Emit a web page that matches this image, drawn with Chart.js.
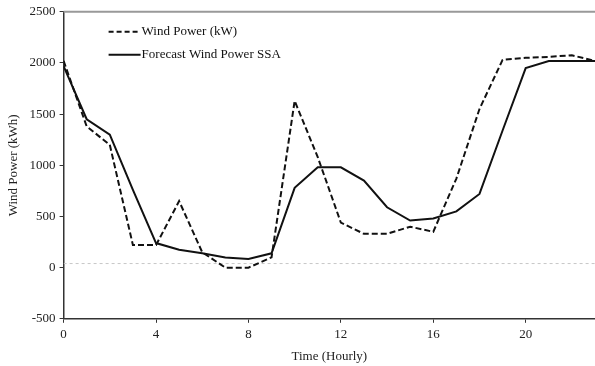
<!DOCTYPE html>
<html>
<head>
<meta charset="utf-8">
<script src="https://cdn.jsdelivr.net/npm/chart.js@4.4.0/dist/chart.umd.min.js"></script>
<style>
  html, body { margin: 0; padding: 0; background: #fff; }
  #wrap { width: 595px; height: 366px; }
</style>
</head>
<body>
<div id="wrap"><canvas id="chart"></canvas></div>
<script>
// hours on the x axis
const hours = [0, 1, 2, 3, 4, 5, 6, 7, 8, 9, 10, 11, 12, 13, 14, 15, 16, 17, 18, 19, 20, 21, 22, 23];
// measured wind power (dashed)
const windPower = [2020, 1380, 1200, 220, 220, 650, 150, 0, 0, 100, 1630, 1080, 440, 330, 330, 400, 350, 870, 1550, 2030, 2050, 2060, 2075, 2020];
// SSA forecast (solid)
const forecastSSA = [1970, 1450, 1300, 760, 240, 175, 140, 100, 85, 140, 780, 980, 980, 850, 590, 460, 480, 550, 720, 1340, 1950, 2020, 2020, 2020];
// faint dotted reference line
const refHours = [0, 23];
const refLevel = [40, 40];

const legendItems = ['Wind Power (kW)', 'Forecast Wind Power SSA'];
const serif = "'Liberation Serif', 'Times New Roman', serif";

const toPoints = (xs, ys) => xs.map((x, i) => ({ x: x, y: ys[i] }));

// legend drawn inside the plot, plus the grey top border
const extrasPlugin = {
  id: 'extras',
  afterDraw(chart) {
    const { ctx, chartArea } = chart;
    ctx.save();
    ctx.strokeStyle = '#999';
    ctx.lineWidth = 2;
    ctx.beginPath();
    ctx.moveTo(chartArea.left, chartArea.top);
    ctx.lineTo(chartArea.right, chartArea.top);
    ctx.stroke();

    const x0 = chartArea.left + 45;
    const y0 = chartArea.top + 20;
    ctx.strokeStyle = '#111';
    ctx.fillStyle = '#111';
    ctx.font = '13px ' + serif;
    ctx.textBaseline = 'middle';
    legendItems.forEach((label, i) => {
      const y = y0 + i * 23;
      ctx.lineWidth = 2;
      ctx.setLineDash(i === 0 ? [5, 3] : []);
      ctx.beginPath();
      ctx.moveTo(x0, y);
      ctx.lineTo(x0 + 32, y);
      ctx.stroke();
      ctx.setLineDash([]);
      ctx.fillText(label, x0 + 33, y);
    });
    ctx.restore();
  }
};

new Chart(document.getElementById('chart'), {
  type: 'line',
  data: {
    datasets: [
      {
        label: legendItems[0],
        data: toPoints(hours, windPower),
        borderColor: '#111',
        borderWidth: 2,
        borderDash: [6, 3],
        pointRadius: 0,
        tension: 0
      },
      {
        label: legendItems[1],
        data: toPoints(hours, forecastSSA),
        borderColor: '#111',
        borderWidth: 2,
        pointRadius: 0,
        tension: 0
      },
      {
        label: 'ref',
        data: toPoints(refHours, refLevel),
        borderColor: '#c8c8c8',
        borderWidth: 1,
        borderDash: [3, 3],
        pointRadius: 0
      }
    ]
  },
  options: {
    responsive: true,
    maintainAspectRatio: false,
    animation: false,
    layout: { padding: { top: 6, right: 0, left: 6, bottom: 2 } },
    plugins: {
      legend: { display: false },
      tooltip: { enabled: false }
    },
    scales: {
      x: {
        type: 'linear',
        min: 0,
        max: 23,
        grid: { drawOnChartArea: false, color: '#333', tickLength: 4 },
        border: { color: '#333', width: 1.5 },
        ticks: {
          stepSize: 4,
          includeBounds: false,
          color: '#222',
          font: { family: serif, size: 13 },
          padding: 4,
          callback: v => String(v)
        },
        title: {
          display: true,
          text: 'Time (Hourly)',
          color: '#222',
          font: { family: serif, size: 13 },
          padding: { top: 2, bottom: 0 }
        }
      },
      y: {
        min: -500,
        max: 2500,
        grid: { drawOnChartArea: false, color: '#333', tickLength: 4 },
        border: { color: '#333', width: 1.5 },
        ticks: {
          stepSize: 500,
          color: '#222',
          font: { family: serif, size: 13 },
          padding: 4,
          callback: v => String(v)
        },
        title: {
          display: true,
          text: 'Wind Power (kWh)',
          color: '#222',
          font: { family: serif, size: 13 },
          padding: { top: 0, bottom: 4 }
        }
      }
    }
  },
  plugins: [extrasPlugin]
});
</script>
</body>
</html>
